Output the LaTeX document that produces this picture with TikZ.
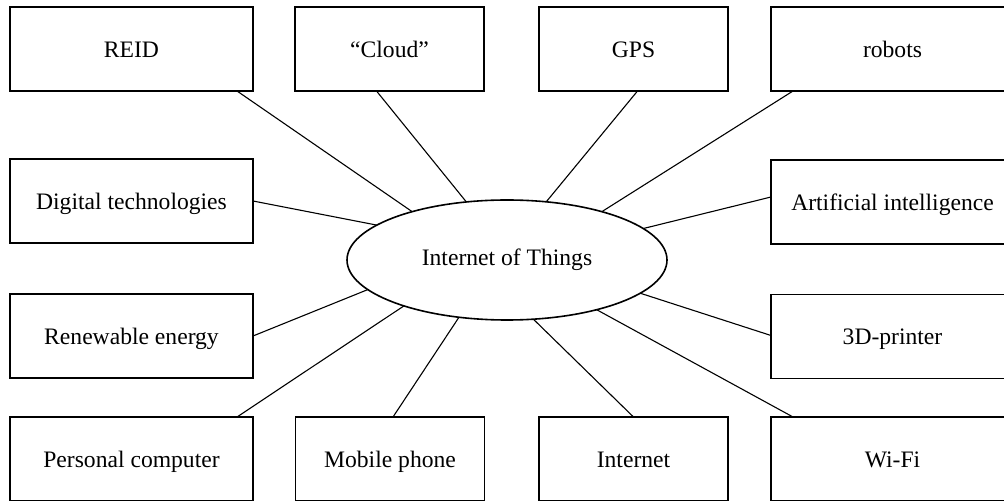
\documentclass[tikz,border=0pt]{standalone}
\usepackage{fontspec}
\setmainfont{Liberation Serif}
\usetikzlibrary{shapes.geometric,calc}

\begin{document}
\begin{tikzpicture}[x=0.5pt,y=-0.5pt,
  font=\fontsize{11.8}{14}\selectfont,
  wide/.style={draw,line width=0.6pt,minimum width=121.5pt,minimum height=42pt,inner sep=0pt,outer sep=0pt,text height=2.3ex,text depth=0.45ex},
  narrow/.style={wide,minimum width=94.5pt},
  link/.style={line width=0.55pt}]
\useasboundingbox (0,0) rectangle (1004,501);
\clip (0,0) rectangle (1004,501);

\node[draw,ellipse,line width=0.8pt,minimum width=160pt,minimum height=60pt,inner sep=0pt,outer sep=0pt] (iot) at (507,260) {Internet of Things};

\node[wide] (reid) at (131.5,49) {REID};
\node[narrow] (cloud) at (389.5,49) {``Cloud''};
\node[narrow] (gps) at (633.5,49) {GPS};
\node[wide] (robots) at (892.5,49) {robots};

\node[wide] (digital) at (131.5,201) {Digital technologies};
\node[wide] (ai) at (892.5,202) {Artificial intelligence};
\node[wide] (energy) at (131.5,336) {Renewable energy};
\node[wide] (printer) at (892.5,336.5) {3D-printer};

\node[wide] (pc) at (131.5,459) {Personal computer};
\node[narrow] (phone) at (390,459) {Mobile phone};
\node[narrow] (internet) at (633.5,459) {Internet};
\node[wide] (wifi) at (892.5,459) {Wi-Fi};

\draw[link] ($(reid.south east)+(-16,0)$) -- (iot.153);
\draw[link] ($(cloud.south)+(-13,0)$) -- (iot.125);
\draw[link] ($(gps.south)+(4,0)$) -- (iot.56);
\draw[link] ($(robots.south west)+(22,0)$) -- (iot.27);
\draw[link] (digital.east) -- (iot.165);
\draw[link] ($(ai.west)+(0,-5)$) -- (iot.13.4);
\draw[link] (energy.east) -- (iot.192.7);
\draw[link] ($(printer.west)+(0,-1)$) -- (iot.-14.5);
\draw[link] ($(pc.north east)+(-16,0)$) -- (iot.204);
\draw[link] ($(phone.north)+(3,0)$) -- (iot.230);
\draw[link] (internet.north) -- (iot.294);
\draw[link] ($(wifi.north west)+(22,0)$) -- (iot.331);
\end{tikzpicture}
\end{document}
